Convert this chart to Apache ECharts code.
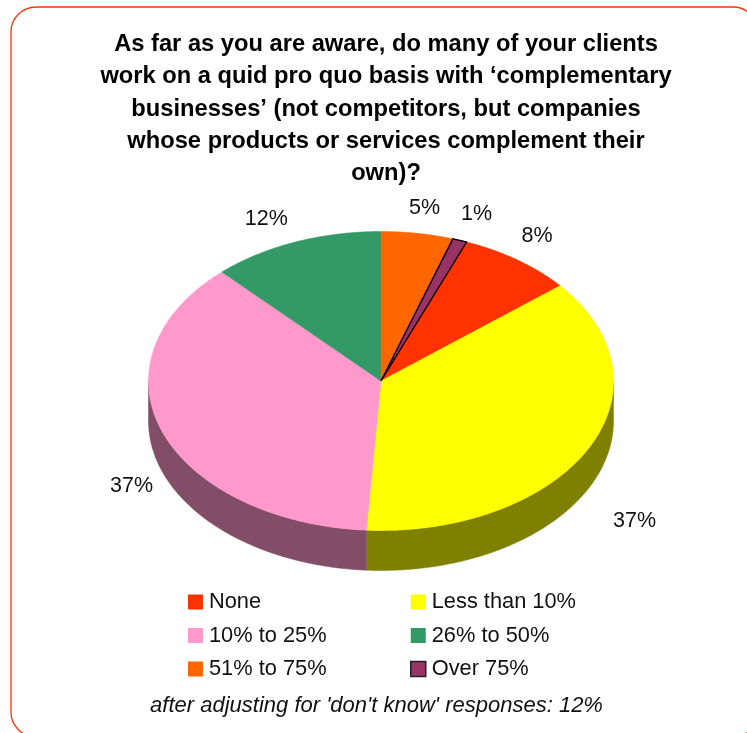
<!DOCTYPE html>
<html>
<head>
<meta charset="utf-8">
<style>html,body{margin:0;padding:0;background:#fff}#chart{width:747px;height:733px}</style>
<script src="https://cdn.jsdelivr.net/npm/echarts@6/dist/echarts.min.js"></script>
</head>
<body>
<div id="chart"></div>
<script>
// Survey answers, clockwise from the "None" slice
const categories = ['None', 'Less than 10%', '10% to 25%', '26% to 50%', '51% to 75%', 'Over 75%'];
const shares = [8, 37, 37, 12, 5, 1];
const topColors = ['#ff3300', '#ffff00', '#ff99cc', '#339966', '#ff6600', '#993366'];
const sideColors = ['#801a00', '#808000', '#824d66', '#1a4d33', '#803300', '#4d1a33'];

const titleText = 'As far as you are aware, do many of your clients\n' +
  'work on a quid pro quo basis with ‘complementary\n' +
  'businesses’ (not competitors, but companies\n' +
  'whose products or services complement their\nown)?';
const footText = "after adjusting for 'don't know' responses: 12%";

// Tilted-disc geometry
const CX = 381, CY = 381, RX = 232.5, RY = 149.5, DEPTH = 40;
const FIRST_ANGLE = 21.6;   // degrees clockwise from 12 o'clock where "None" begins
const LABEL_RADIUS = 1.2;
const labelNudges = [[-8, 0], [5, 59], [13, 44], [-12, 5], [0, 4], [1, 2]];

const total = shares.reduce((a, b) => a + b, 0);
const rimPoint = (deg, drop) => {
  const t = deg * Math.PI / 180;
  return [CX + RX * Math.sin(t), CY - RY * Math.cos(t) + (drop || 0)];
};
const arcPoints = (from, to, drop) => {
  const pts = [];
  const steps = Math.max(2, Math.ceil((to - from) * 2));
  for (let i = 0; i <= steps; i++) pts.push(rimPoint(from + (to - from) * i / steps, drop));
  return pts;
};

function renderSlice(index) {
  return function (params, api) {
    const start = api.value(0), sweep = api.value(1), end = start + sweep;
    const kids = [];
    // outer wall shows only along the front half of the disc (90° to 270°)
    const wallFrom = Math.max(start, 90), wallTo = Math.min(end, 270);
    if (wallTo > wallFrom) {
      kids.push({
        type: 'polygon',
        shape: { points: arcPoints(wallFrom, wallTo, 0).concat(arcPoints(wallFrom, wallTo, DEPTH).reverse()) },
        style: { fill: sideColors[index], stroke: sideColors[index], lineWidth: 0.5 }
      });
    }
    const outlined = categories[index] === 'Over 75%';
    kids.push({
      type: 'polygon',
      shape: { points: [[CX, CY]].concat(arcPoints(start, end, 0)) },
      style: outlined
        ? { fill: topColors[index], stroke: '#000', lineWidth: 1.4 }
        : { fill: topColors[index], stroke: topColors[index], lineWidth: 0.5 }
    });
    const mid = (start + (end - start) / 2) * Math.PI / 180;
    kids.push({
      type: 'text',
      z2: 10,
      style: {
        x: CX + LABEL_RADIUS * RX * Math.sin(mid) + labelNudges[index][0],
        y: CY - LABEL_RADIUS * RY * Math.cos(mid) + labelNudges[index][1],
        text: api.value(2) + '%',
        fill: '#111',
        font: '21.5px "Liberation Sans", Arial, sans-serif',
        align: 'center',
        verticalAlign: 'middle'
      }
    });
    return { type: 'group', children: kids };
  };
}

let cursor = FIRST_ANGLE;
const series = categories.map((name, i) => {
  const sweep = shares[i] / total * 360;
  const row = [cursor, sweep, shares[i]];
  cursor += sweep;
  return {
    type: 'custom',
    name: name,
    coordinateSystem: 'none',
    silent: true,
    animation: false,
    itemStyle: { color: topColors[i] },
    renderItem: renderSlice(i),
    data: [row]
  };
});

const legendEntry = name => {
  const i = categories.indexOf(name);
  return {
    name: name,
    itemStyle: name === 'Over 75%'
      ? { color: topColors[i], borderColor: '#222', borderWidth: 1.5 }
      : { color: topColors[i], borderWidth: 0 }
  };
};
const legendColumn = (names, left) => ({
  orient: 'vertical',
  left: left,
  top: 591,
  padding: 0,
  itemWidth: 15,
  itemHeight: 15,
  itemGap: 11.5,
  selectedMode: false,
  icon: 'rect',
  textStyle: { color: '#111', fontSize: 21.8, fontFamily: '"Liberation Sans", Arial, sans-serif', padding: [0, 0, 5, 1] },
  data: names.map(legendEntry)
});

const chart = echarts.init(document.getElementById('chart'), null, { renderer: 'canvas' });
chart.setOption({
  animation: false,
  backgroundColor: '#ffffff',
  title: [
    {
      text: titleText,
      left: 386, top: 28.5, padding: 0, textAlign: 'center',
      textStyle: { color: '#000', fontSize: 23.7, fontWeight: 'bold', lineHeight: 32.2, fontFamily: '"Liberation Sans", Arial, sans-serif' }
    },
    {
      text: footText,
      left: 376.5, top: 695, padding: 0, textAlign: 'center',
      textStyle: { color: '#111', fontSize: 22, fontStyle: 'italic', fontWeight: 'normal', fontFamily: '"Liberation Sans", Arial, sans-serif' }
    }
  ],
  graphic: [{
    type: 'rect',
    silent: true,
    shape: { x: 11, y: 7, width: 747, height: 730, r: 25 },
    style: { fill: 'none', stroke: '#ff3300', lineWidth: 1.3 }
  }],
  legend: [
    legendColumn(['None', '10% to 25%', '51% to 75%'], 188),
    legendColumn(['Less than 10%', '26% to 50%', 'Over 75%'], 410)
  ],
  series: series
});
</script>
</body>
</html>
